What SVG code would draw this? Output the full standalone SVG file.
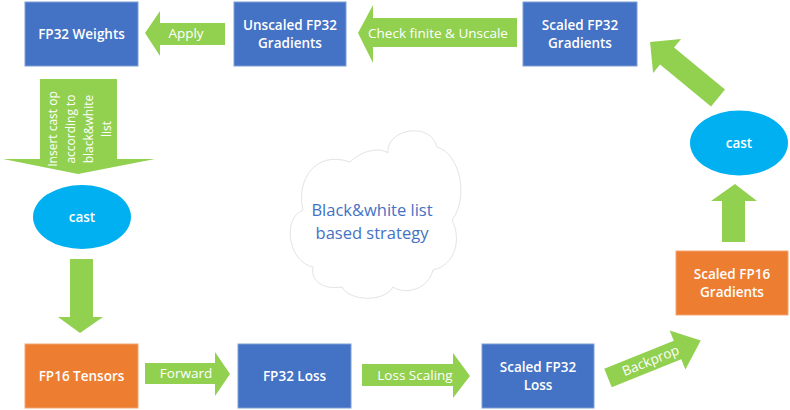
<svg xmlns="http://www.w3.org/2000/svg" width="790" height="410" viewBox="0 0 790 410">
<style>
.blue{fill:#4472C4;stroke:#7f9fd6;stroke-width:1}
.orange{fill:#ED7D31;stroke:#f4a672;stroke-width:1}
.ell{fill:#00B0F0}
.arr{fill:#92D050}
.bt{font-family:"Open Sans","Noto Sans",sans-serif;font-size:13.5px;font-weight:600;fill:#fff;text-anchor:middle}
.lt{font-family:"Open Sans","Noto Sans",sans-serif;font-size:13.5px;fill:#fff;text-anchor:middle}
.rt{font-family:"Open Sans","Noto Sans",sans-serif;font-size:12px;fill:#fff;text-anchor:middle}
.ct{font-family:"Open Sans","Noto Sans",sans-serif;font-size:16.5px;fill:#4472C4;text-anchor:middle}
</style>
<rect width="790" height="410" fill="#fff"/>
<g id="cloud">
<path d="M303,210 C296,180 315,150 350,162 C360,152 378,146 388,153 C385,130 430,120 437,147 C462,155 468,200 452,220 C462,240 455,265 433,270 C428,290 405,295 393,287 C385,302 350,302 342,287 C325,290 310,282 313,267 C288,262 282,218 303,210 Z" fill="#fff" stroke="#e3e3e3" stroke-width="1"/>
<text class="ct" x="372" y="216">Black&amp;white list</text>
<text class="ct" x="372" y="239">based strategy</text>
</g>
<g id="connectors">
<g id="apply"><polygon class="arr" points="145,33 160,11 160,23 225,23 225,45 160,45 160,56"/><text class="lt" x="186" y="38">Apply</text></g>
<g id="check"><polygon class="arr" points="358,33 373,5 373,18 517,18 517,47 373,47 373,63"/><text class="lt" x="438" y="38">Check finite &amp; Unscale</text></g>
<g id="insert"><polygon class="arr" points="40,79 117,79 117,159 155,159 78,174 3,159 40,159"/>
<text class="rt" transform="translate(79,129) rotate(-90)"><tspan x="0" y="-22.5">Insert cast op</tspan><tspan x="0" y="-4.5">according to</tspan><tspan x="0" y="13.5">black&amp;white</tspan><tspan x="0" y="31.5">list</tspan></text></g>
<polygon id="down" class="arr" points="70,259 93,259 93,317 103,317 80,333 58,317 70,317"/>
<g id="forward"><polygon class="arr" points="145,363 215,363 215,352 230,374 215,396 215,384 145,384"/><text class="lt" x="186" y="378">Forward</text></g>
<g id="lossscaling"><polygon class="arr" points="362,364 453,364 453,353 470,376 453,398 453,386 362,386"/><text class="lt" x="415" y="380">Loss Scaling</text></g>
<g id="backprop" transform="translate(608,378) rotate(-22)"><polygon class="arr" points="0,-10 75,-10 75,-21 100,0 75,21 75,10 0,10"/><text class="lt" x="46" y="4.5">Backprop</text></g>
<polygon id="up" class="arr" points="722,242 745,242 745,201 757,201 735,184 711,201 722,201"/>
<polygon id="upleft" class="arr" transform="translate(718,98) rotate(-140.5)" points="0,-11 66,-11 66,-22 88,0 66,22 66,11 0,11"/>
</g>
<g id="fp32weights"><rect class="blue" x="25" y="2" width="113" height="64"/><text class="bt" x="81.5" y="38.5">FP32 Weights</text></g>
<g id="unscaled"><rect class="blue" x="234" y="2" width="112" height="64"/><text class="bt" x="290" y="29.5">Unscaled FP32</text><text class="bt" x="290" y="47.5">Gradients</text></g>
<g id="scaledfp32grad"><rect class="blue" x="523" y="2" width="114" height="64"/><text class="bt" x="580" y="29.5">Scaled FP32</text><text class="bt" x="580" y="47.5">Gradients</text></g>
<g id="castleft"><ellipse class="ell" cx="82" cy="217" rx="49" ry="32"/><text class="bt" x="82" y="222">cast</text></g>
<g id="castright"><ellipse class="ell" cx="739" cy="143" rx="49" ry="32.5"/><text class="bt" x="739" y="148">cast</text></g>
<g id="scaledfp16grad"><rect class="orange" x="676" y="251" width="112" height="64"/><text class="bt" x="732" y="278.5">Scaled FP16</text><text class="bt" x="732" y="296.5">Gradients</text></g>
<g id="fp16tensors"><rect class="orange" x="25" y="344" width="113" height="64"/><text class="bt" x="81.5" y="380.5">FP16 Tensors</text></g>
<g id="fp32loss"><rect class="blue" x="238" y="344" width="113" height="64"/><text class="bt" x="294.5" y="380.5">FP32 Loss</text></g>
<g id="scaledfp32loss"><rect class="blue" x="482" y="344" width="112" height="64"/><text class="bt" x="538" y="371.5">Scaled FP32</text><text class="bt" x="538" y="389.5">Loss</text></g>
</svg>
